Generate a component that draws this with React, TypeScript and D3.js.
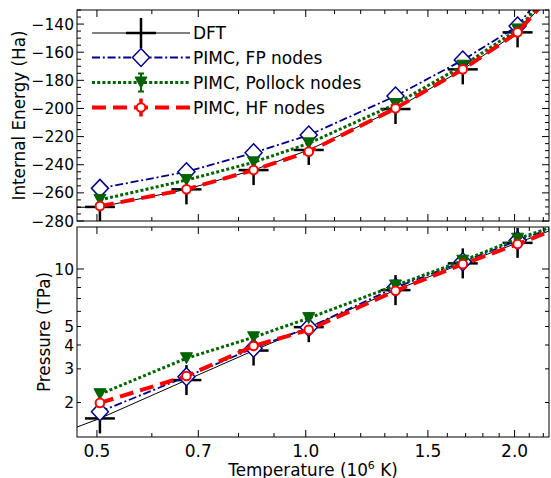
import React from "react";
import * as d3 from "d3";

// ---- data (temperature in 10^6 K) ----
const TEMPERATURES = [0.505, 0.673, 0.841, 1.01, 1.347, 1.684, 2.02];

const ENERGY_DFT = [-270, -257.5, -243.8, -229.5, -200.4, -172.2, -145.9];
const ENERGY_FP = [-256.8, -245, -231.5, -218.9, -191.2, -165.6, -141.4];
const ENERGY_POLLOCK = [-265, -250.9, -238.3, -224.8, -196.9, -169.6, -143.8];
const ENERGY_HF = [-269.4, -257.5, -243.8, -230.7, -199.9, -172.2, -145.9];

const PRESSURE_DFT = [1.65, 2.62, 3.74, 4.96, 7.75, 10.7, 13.7];
const PRESSURE_FP = [1.79, 2.73, 3.85, 4.94, 8.0, 10.9, 14.1];
const PRESSURE_POLLOCK = [2.21, 3.41, 4.39, 5.53, 8.2, 11.05, 14.4];
const PRESSURE_HF = [1.99, 2.75, 3.95, 4.8, 7.69, 10.6, 13.5];

// lines continue past the plotted window (points outside the axes)
const T_BELOW = 0.4;
const T_ABOVE = 2.526;
const ENERGY_DFT_BELOW = -271;
const PRESSURE_DFT_BELOW = 1.2;
// order: DFT, FP, Pollock, HF
const ENERGY_ABOVE = [-92, -80, -90, -92];
const PRESSURE_ABOVE = [18.6, 18.8, 19.0, 18.6];

const SERIES_NAMES = ["DFT", "PIMC, FP nodes", "PIMC, Pollock nodes", "PIMC, HF nodes"];

const X_MAJOR = [0.5, 0.7, 1.0, 1.5, 2.0];
const X_LABELS = ["0.5", "0.7", "1.0", "1.5", "2.0"];
const E_MAJOR = [-280, -260, -240, -220, -200, -180, -160, -140];
const P_TICKS = [2, 3, 4, 5, 10];
const P_TICK_LABELS = ["2", "3", "4", "5", "10"];

// ---- layout ----
const W = 551;
const H = 478;
const L = 77;
const R = 549;
const TOP = { y0: 10, y1: 221 };
const BOT = { y0: 227, y1: 437 };
const FONT = "DejaVu Sans, sans-serif";
const BLUE = "#00008B";
const GREEN = "#006400";
const RED = "#FF0000";

const x = d3.scaleLog().domain([0.468, 2.242]).range([L, R]);
const yE = d3.scaleLinear().domain([-280, -130]).range([TOP.y1, TOP.y0]);
const yP = d3.scaleLog().domain([1.319, 16.59]).range([BOT.y1, BOT.y0]);

const minorX = d3.range(5, 23).map((v) => v / 10).filter((v) => !X_MAJOR.some((m) => Math.abs(m - v) < 1e-9));
const minorE = d3.range(-280, -129, 5).filter((v) => v % 20 !== 0);
const minorP = [6, 7, 8, 9];

type Pt = [number, number];

function Plus({ cx, cy, s = 15 }: { cx: number; cy: number; s?: number }) {
  return (
    <g stroke="black" strokeWidth={2.5}>
      <line x1={cx - s} x2={cx + s} y1={cy} y2={cy} />
      <line x1={cx} x2={cx} y1={cy - s} y2={cy + s} />
    </g>
  );
}
function Diamond({ cx, cy }: { cx: number; cy: number }) {
  return (
    <path
      d={`M${cx},${cy - 9}L${cx + 8.5},${cy}L${cx},${cy + 9}L${cx - 8.5},${cy}Z`}
      fill="white"
      stroke={BLUE}
      strokeWidth={1.5}
    />
  );
}
function TriDown({ cx, cy }: { cx: number; cy: number }) {
  return (
    <path
      d={`M${cx - 6},${cy - 5.5}L${cx + 6},${cy - 5.5}L${cx},${cy + 5.5}Z`}
      fill={GREEN}
      stroke={GREEN}
      strokeWidth={1}
    />
  );
}
function Circ({ cx, cy }: { cx: number; cy: number }) {
  return <circle cx={cx} cy={cy} r={4.3} fill="white" stroke={RED} strokeWidth={2} />;
}

const lineGen = d3
  .line<Pt>()
  .x((d) => x(d[0]))
  .y((d) => d[1]);

const STYLES = [
  { stroke: "black", width: 1, dash: undefined as string | undefined },
  { stroke: BLUE, width: 1.8, dash: "8,2.8,2,2.8" },
  { stroke: GREEN, width: 3, dash: "3,2.2" },
  { stroke: RED, width: 4, dash: "14,7" },
];

function Marker({ i, cx, cy }: { i: number; cx: number; cy: number }) {
  if (i === 0) return <Plus cx={cx} cy={cy} />;
  if (i === 1) return <Diamond cx={cx} cy={cy} />;
  if (i === 2) return <TriDown cx={cx} cy={cy} />;
  return <Circ cx={cx} cy={cy} />;
}

function Panel({
  id,
  box,
  series,
  yScale,
  yTicks,
  yTickLabels,
  yMinor,
  yLabel,
  yLabelX,
}: {
  id: string;
  box: { y0: number; y1: number };
  series: Pt[][];
  yScale: (v: number) => number;
  yTicks: number[];
  yTickLabels: string[];
  yMinor: number[];
  yLabel: string;
  yLabelX: number;
}) {
  const { y0, y1 } = box;
  return (
    <g>
      <defs>
        <clipPath id={id}>
          <rect x={L} y={y0} width={R - L} height={y1 - y0} />
        </clipPath>
      </defs>
      <g clipPath={`url(#${id})`}>
        {series.map((pts, i) => (
          <g key={i}>
            <path
              d={lineGen(pts.map((p) => [p[0], yScale(p[1])] as Pt)) || ""}
              fill="none"
              stroke={STYLES[i].stroke}
              strokeWidth={STYLES[i].width}
              strokeDasharray={STYLES[i].dash}
            />
            {pts
              .filter((p) => TEMPERATURES.includes(p[0]))
              .map((p, j) => (
                <Marker key={j} i={i} cx={x(p[0])} cy={yScale(p[1])} />
              ))}
          </g>
        ))}
      </g>
      <g stroke="black" strokeWidth={1}>
        {X_MAJOR.map((t) => (
          <g key={"M" + t}>
            <line x1={x(t)} x2={x(t)} y1={y1} y2={y1 - 7} />
            <line x1={x(t)} x2={x(t)} y1={y0} y2={y0 + 7} />
          </g>
        ))}
        {minorX.map((t) => (
          <g key={"m" + t}>
            <line x1={x(t)} x2={x(t)} y1={y1} y2={y1 - 4} />
            <line x1={x(t)} x2={x(t)} y1={y0} y2={y0 + 4} />
          </g>
        ))}
        {yTicks.map((t, k) => {
          const len = yTicks.length === 5 && t !== 10 ? 4 : 7;
          return (
            <g key={"y" + k}>
              <line x1={L} x2={L + len} y1={yScale(t)} y2={yScale(t)} />
              <line x1={R} x2={R - len} y1={yScale(t)} y2={yScale(t)} />
            </g>
          );
        })}
        {yMinor.map((t, k) => (
          <g key={"ym" + k}>
            <line x1={L} x2={L + 4} y1={yScale(t)} y2={yScale(t)} />
            <line x1={R} x2={R - 4} y1={yScale(t)} y2={yScale(t)} />
          </g>
        ))}
      </g>
      <rect x={L} y={y0} width={R - L} height={y1 - y0} fill="none" stroke="black" strokeWidth={1} />
      <g fontFamily={FONT} fontSize={15.5} fill="black" textAnchor="end">
        {yTicks.map((t, k) => (
          <text key={k} x={L - 3} y={yScale(t)} dy="0.36em">
            {yTickLabels[k]}
          </text>
        ))}
      </g>
      <text
        transform={`translate(${yLabelX},${(y0 + y1) / 2}) rotate(-90)`}
        textAnchor="middle"
        fontFamily={FONT}
        fontSize={16.8}
        dy="0.36em"
      >
        {yLabel}
      </text>
    </g>
  );
}

export default function App() {
  const mk = (vals: number[]): Pt[] => TEMPERATURES.map((t, i) => [t, vals[i]] as Pt);
  const energySeries: Pt[][] = [
    [[T_BELOW, ENERGY_DFT_BELOW] as Pt, ...mk(ENERGY_DFT), [T_ABOVE, ENERGY_ABOVE[0]] as Pt],
    [...mk(ENERGY_FP), [T_ABOVE, ENERGY_ABOVE[1]] as Pt],
    [...mk(ENERGY_POLLOCK), [T_ABOVE, ENERGY_ABOVE[2]] as Pt],
    [...mk(ENERGY_HF), [T_ABOVE, ENERGY_ABOVE[3]] as Pt],
  ];
  const pressureSeries: Pt[][] = [
    [[T_BELOW, PRESSURE_DFT_BELOW] as Pt, ...mk(PRESSURE_DFT), [T_ABOVE, PRESSURE_ABOVE[0]] as Pt],
    [...mk(PRESSURE_FP), [T_ABOVE, PRESSURE_ABOVE[1]] as Pt],
    [...mk(PRESSURE_POLLOCK), [T_ABOVE, PRESSURE_ABOVE[2]] as Pt],
    [...mk(PRESSURE_HF), [T_ABOVE, PRESSURE_ABOVE[3]] as Pt],
  ];

  const legY = [33, 57.5, 82.5, 107.5];
  const lx0 = 92;
  const lx1 = 190;
  const lmx = 141;

  return (
    <svg width={W} height={H} style={{ position: "absolute", left: 0, top: 0, background: "white" }}>
      <rect width={W} height={H} fill="white" />
      <Panel
        id="clipTop"
        box={TOP}
        series={energySeries}
        yScale={yE}
        yTicks={E_MAJOR}
        yTickLabels={E_MAJOR.map((v) => "\u2212" + Math.abs(v))}
        yMinor={minorE}
        yLabel="Internal Energy (Ha)"
        yLabelX={19}
      />
      <Panel
        id="clipBot"
        box={BOT}
        series={pressureSeries}
        yScale={yP}
        yTicks={P_TICKS}
        yTickLabels={P_TICK_LABELS}
        yMinor={minorP}
        yLabel="Pressure (TPa)"
        yLabelX={44}
      />
      <g fontFamily={FONT} fontSize={17} textAnchor="middle">
        {X_MAJOR.map((t, k) => (
          <text key={k} x={x(t)} y={456.5}>
            {X_LABELS[k]}
          </text>
        ))}
      </g>
      <text x={(L + R) / 2} y={475.5} textAnchor="middle" fontFamily={FONT} fontSize={16.8}>
        Temperature (10
        <tspan fontSize={11} dy={-7}>
          6
        </tspan>
        <tspan dy={7}> K)</tspan>
      </text>
      <g>
        {SERIES_NAMES.map((name, i) => (
          <g key={i}>
            <line
              x1={lx0}
              x2={lx1}
              y1={legY[i]}
              y2={legY[i]}
              stroke={STYLES[i].stroke}
              strokeWidth={STYLES[i].width}
              strokeDasharray={STYLES[i].dash}
            />
            {i === 2 && (
              <g stroke={GREEN} strokeWidth={2}>
                <line x1={lmx} x2={lmx} y1={legY[i] - 9} y2={legY[i] + 9} />
                <line x1={lmx - 3} x2={lmx + 3} y1={legY[i] - 9} y2={legY[i] - 9} />
                <line x1={lmx - 3} x2={lmx + 3} y1={legY[i] + 9} y2={legY[i] + 9} />
              </g>
            )}
            {i === 3 && (
              <g stroke={RED} strokeWidth={3.5}>
                <line x1={lmx} x2={lmx} y1={legY[i] - 9} y2={legY[i] + 9} />
              </g>
            )}
            <Marker i={i} cx={lmx} cy={legY[i]} />
            <text x={193} y={legY[i]} dy="0.36em" fontFamily={FONT} fontSize={17}>
              {name}
            </text>
          </g>
        ))}
      </g>
    </svg>
  );
}
